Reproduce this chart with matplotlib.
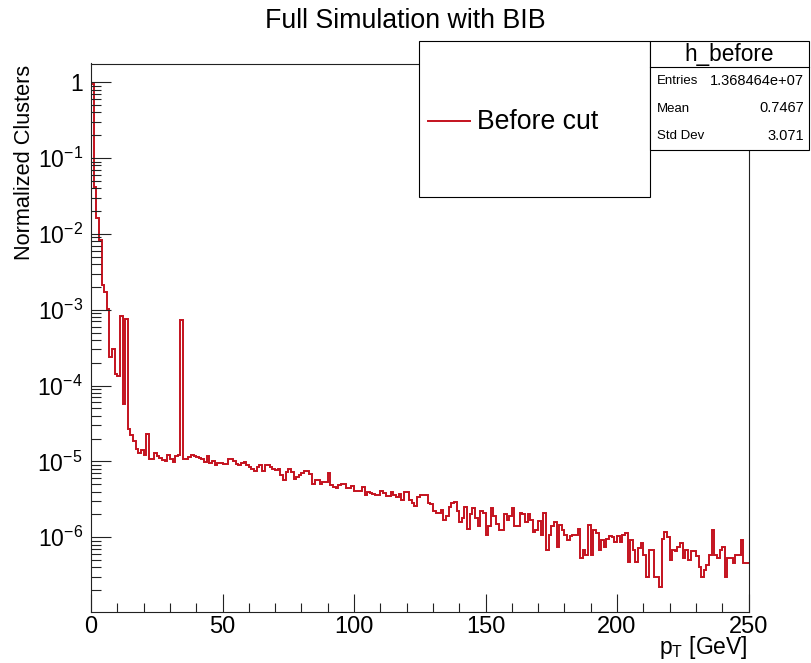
import numpy as np
import matplotlib
matplotlib.use("Agg")
import matplotlib.pyplot as plt
from matplotlib.patches import Rectangle
from matplotlib.lines import Line2D
from matplotlib.ticker import MultipleLocator, LogLocator, FixedLocator, FixedFormatter, NullFormatter

plt.rcParams['font.family'] = ['Liberation Sans', 'DejaVu Sans']
plt.rcParams['mathtext.fontset'] = 'custom'
plt.rcParams['mathtext.rm'] = 'Liberation Sans'
plt.rcParams['mathtext.it'] = 'Liberation Sans:italic'
plt.rcParams['mathtext.default'] = 'regular'

# pT histogram, 1 GeV bins from 0 to 250, normalized
pt_edges = np.arange(0, 251, 1)
counts = [
    0.95, 4.1e-2, 1.6e-2, 8.3e-3, 2.1e-3, 1.7e-3, 1.01e-3, 2.35e-4, 3.0e-4, 1.42e-4,
    1.34e-4, 8.3e-4, 5.7e-5, 7.5e-4, 2.7e-5, 2.2e-5, 1.87e-5, 1.45e-5, 1.27e-5, 1.4e-5,
    1.2e-5, 2.3e-5, 1.07e-5, 1.07e-5, 1.27e-5, 1.17e-5, 1.1e-5, 1.04e-5, 1.01e-5, 1.21e-5,
    1.09e-5, 9.7e-6, 1.19e-5, 1.21e-5, 7.3e-4, 1.06e-5, 1.06e-5, 1.15e-5, 1.22e-5, 1.19e-5,
    1.15e-5, 1.1e-5, 1.06e-5, 9.8e-6, 1.17e-5, 9.4e-6, 1.02e-5, 8.9e-6, 9.6e-6, 9.6e-6,
    9.2e-6, 9.2e-6, 1.06e-5, 1.08e-5, 1.0e-5, 9.1e-6, 8.9e-6, 9.4e-6, 9.8e-6, 8.9e-6,
    8.4e-6, 7.9e-6, 7.5e-6, 8.5e-6, 8.9e-6, 7.5e-6, 8.9e-6, 8.9e-6, 8.5e-6, 7.9e-6,
    7.7e-6, 7.9e-6, 6.7e-6, 5.6e-6, 7.2e-6, 7.9e-6, 7.3e-6, 5.9e-6, 6.3e-6, 6.6e-6,
    7.0e-6, 7.5e-6, 7.4e-6, 6.8e-6, 5.1e-6, 5.6e-6, 5.6e-6, 5.0e-6, 5.4e-6, 5.4e-6,
    7.0e-6, 4.9e-6, 4.6e-6, 4.5e-6, 4.9e-6, 5.0e-6, 5.1e-6, 4.4e-6, 4.4e-6, 4.7e-6,
    4.1e-6, 4.1e-6, 4.1e-6, 4.6e-6, 3.6e-6, 4.0e-6, 3.8e-6, 3.7e-6, 3.6e-6, 3.6e-6,
    4.1e-6, 3.8e-6, 3.5e-6, 3.5e-6, 3.9e-6, 3.6e-6, 3.4e-6, 3.7e-6, 3.1e-6, 4.0e-6,
    4.0e-6, 3.1e-6, 2.8e-6, 2.6e-6, 3.4e-6, 3.6e-6, 3.6e-6, 3.6e-6, 2.8e-6, 2.7e-6,
    2.2e-6, 2.1e-6, 2.1e-6, 2.3e-6, 1.7e-6, 1.9e-6, 2.5e-6, 2.8e-6, 2.9e-6, 2.2e-6,
    1.6e-6, 1.8e-6, 2.5e-6, 1.3e-6, 2.0e-6, 2.4e-6, 1.8e-6, 1.4e-6, 2.2e-6, 2.1e-6,
    1.07e-6, 1.4e-6, 2.4e-6, 1.9e-6, 1.5e-6, 1.24e-6, 1.24e-6, 2.0e-6, 1.7e-6, 1.9e-6,
    2.4e-6, 1.4e-6, 1.4e-6, 2.1e-6, 2.0e-6, 1.6e-6, 2.0e-6, 1.7e-6, 1.18e-6, 1.24e-6,
    1.65e-6, 1.07e-6, 2.1e-6, 6.8e-7, 1.07e-6, 1.4e-6, 1.6e-6, 7.5e-7, 1.45e-6, 1.24e-6,
    1.07e-6, 9.2e-7, 1.03e-6, 1.07e-6, 1.07e-6, 1.3e-6, 5.3e-7, 6.8e-7, 5.8e-7, 1.45e-6,
    5.8e-7, 1.24e-6, 1.12e-6, 6.8e-7, 9.2e-7, 7.5e-7, 9.6e-7, 1.03e-6, 1.0e-6, 8.7e-7,
    1.03e-6, 8.7e-7, 1.07e-6, 1.12e-6, 4.7e-7, 9.2e-7, 6.8e-7, 4.7e-7, 7.1e-7, 8.3e-7,
    5.8e-7, 3.0e-7, 6.8e-7, 6.8e-7, 3.0e-7, 3.0e-7, 2.2e-7, 9.6e-7, 1.18e-6, 1.0e-6,
    5.0e-7, 6.8e-7, 6.5e-7, 7.5e-7, 8.3e-7, 5.3e-7, 6.8e-7, 5.0e-7, 6.5e-7, 6.6e-7,
    5.6e-7, 4.1e-7, 3.0e-7, 3.7e-7, 4.3e-7, 5.8e-7, 1.24e-6, 5.8e-7, 5.3e-7, 6.8e-7,
    7.5e-7, 3.0e-7, 5.3e-7, 5.3e-7, 4.6e-7, 5.8e-7, 5.8e-7, 9.2e-7, 4.6e-7, 4.6e-7,
]

y_ticks = [1, 1e-1, 1e-2, 1e-3, 1e-4, 1e-5, 1e-6]
y_ticklabels = ["1", r"$10^{-1}$", r"$10^{-2}$", r"$10^{-3}$", r"$10^{-4}$", r"$10^{-5}$", r"$10^{-6}$"]

stat_names = ["Entries", "Mean", "Std Dev"]
stat_values = ["1.368464e+07", "0.7467", "3.071"]

W, H = 811, 663
def fx(px):
    return px / W
def fy(py):
    return 1 - py / H

fig = plt.figure(figsize=(W / 100, H / 100), dpi=100)
ax = fig.add_axes([fx(91), fy(612), fx(748.5) - fx(91), fy(63.5) - fy(612)])

ax.stairs(counts, pt_edges, baseline=None, color="#c4121e", lw=1.4)

ax.set_yscale("log")
ax.set_xlim(0, 250)
ax.set_ylim(1.03e-7, 1.77)

ax.xaxis.set_major_locator(MultipleLocator(50))
ax.xaxis.set_minor_locator(MultipleLocator(10))
ax.yaxis.set_major_locator(FixedLocator(y_ticks))
ax.yaxis.set_major_formatter(FixedFormatter(y_ticklabels))
ax.yaxis.set_minor_locator(LogLocator(base=10, subs=np.arange(2, 10)))
ax.yaxis.set_minor_formatter(NullFormatter())

ax.tick_params(which="both", direction="in", top=False, right=False, width=0.8, color="#222222")
ax.tick_params(axis="x", which="major", length=13, pad=3, labelsize=17)
ax.tick_params(axis="x", which="minor", length=6.5)
ax.tick_params(axis="y", which="major", length=14.5, pad=6, labelsize=16.5)
ax.tick_params(axis="y", which="minor", length=7)
for sp in ax.spines.values():
    sp.set_linewidth(0.8)
    sp.set_color("#222222")

fig.text(fx(405), fy(21), "Full Simulation with BIB", ha="center", va="center", fontsize=19.3)
fig.text(fx(25), fy(65), "Normalized Clusters", rotation=90, ha="center", va="top", fontsize=15.7)
fig.text(fx(748), fy(654), r"p$_{T}$ [GeV]", ha="right", va="baseline", fontsize=16.5)

# legend box
fig.add_artist(Rectangle((fx(419), fy(197)), fx(650) - fx(419), fy(41) - fy(197),
                         transform=fig.transFigure, facecolor="white", edgecolor="black", lw=0.8, zorder=5))
fig.add_artist(Line2D([fx(428), fx(470)], [fy(121), fy(121)], transform=fig.transFigure,
                      color="#c4121e", lw=1.4, zorder=6))
fig.text(fx(477), fy(122), "Before cut", ha="left", va="center", fontsize=19.2, zorder=6)

# stats box
fig.add_artist(Rectangle((fx(650), fy(150)), fx(809) - fx(650), fy(41) - fy(150),
                         transform=fig.transFigure, facecolor="white", edgecolor="black", lw=0.8, zorder=5))
fig.add_artist(Line2D([fx(650), fx(809)], [fy(67), fy(67)], transform=fig.transFigure,
                      color="black", lw=0.8, zorder=6))
fig.text(fx(729), fy(54), "h_before", ha="center", va="center", fontsize=16.3, zorder=6)
for i, (name, val) in enumerate(zip(stat_names, stat_values)):
    yy = fy(81 + 27.5 * i)
    fig.text(fx(657), yy, name, ha="left", va="center", fontsize=9.5, zorder=6)
    fig.text(fx(804), yy, val, ha="right", va="center", fontsize=10.5, zorder=6)

fig.savefig("out.png", dpi=100)
